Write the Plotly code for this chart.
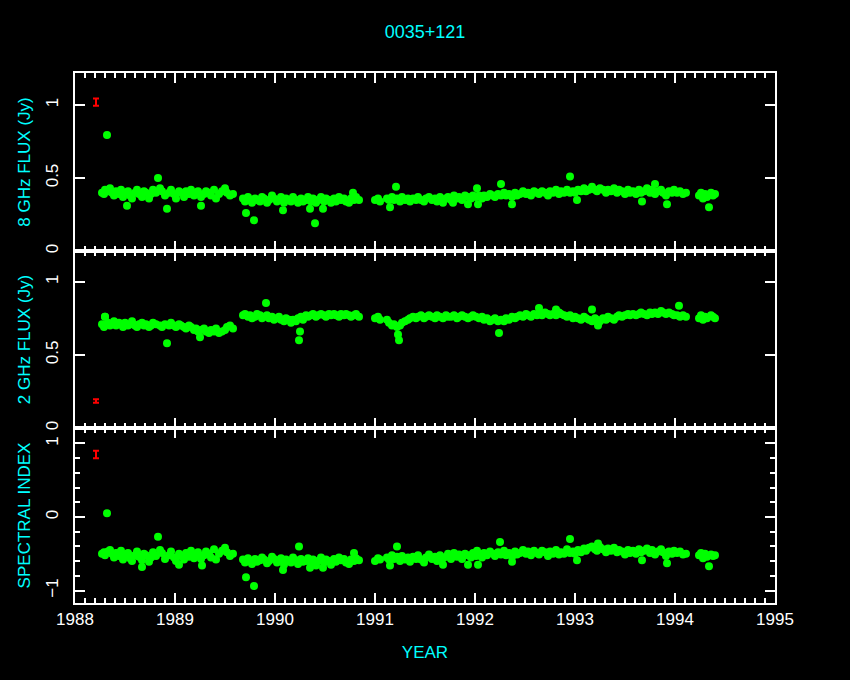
import plotly.graph_objects as go

# ---------------- data ----------------
title_text = "0035+121"
x_ticks = [1988, 1989, 1990, 1991, 1992, 1993, 1994, 1995]

dates = [
    1988.27, 1988.29, 1988.30, 1988.33, 1988.35, 1988.37, 1988.39, 1988.41, 1988.44, 1988.46,
    1988.48, 1988.50, 1988.53, 1988.55, 1988.57, 1988.60, 1988.62, 1988.64, 1988.67, 1988.69,
    1988.71, 1988.74, 1988.76, 1988.78, 1988.81, 1988.85, 1988.87, 1988.90, 1988.94, 1988.96,
    1988.99, 1989.01, 1989.04, 1989.06, 1989.09, 1989.11, 1989.14, 1989.16, 1989.19, 1989.21,
    1989.23, 1989.26, 1989.29, 1989.31, 1989.34, 1989.36, 1989.39, 1989.41, 1989.44, 1989.47,
    1989.50, 1989.52, 1989.55, 1989.58,
    1989.68, 1989.70, 1989.73, 1989.75, 1989.77, 1989.80, 1989.82, 1989.85, 1989.87, 1989.89,
    1989.92, 1989.94, 1989.97, 1989.99, 1990.02, 1990.04, 1990.06, 1990.09, 1990.11, 1990.14,
    1990.16, 1990.18, 1990.21, 1990.23, 1990.26, 1990.28, 1990.31, 1990.33, 1990.36, 1990.38,
    1990.41, 1990.43, 1990.46, 1990.49, 1990.51, 1990.54, 1990.56, 1990.59, 1990.61, 1990.64,
    1990.66, 1990.69, 1990.71, 1990.74, 1990.76, 1990.79, 1990.81, 1990.84,
    1991.00, 1991.03, 1991.05,
    1991.12, 1991.14, 1991.17, 1991.19, 1991.22, 1991.25, 1991.27, 1991.30, 1991.33, 1991.35,
    1991.38, 1991.41, 1991.43, 1991.46, 1991.49, 1991.51, 1991.54, 1991.57, 1991.60, 1991.62,
    1991.65, 1991.68, 1991.71, 1991.73, 1991.76, 1991.79, 1991.82, 1991.84, 1991.87, 1991.90,
    1991.93, 1991.96, 1991.98,
    1992.01, 1992.04, 1992.07, 1992.09, 1992.12, 1992.15, 1992.18, 1992.20, 1992.23, 1992.26,
    1992.29, 1992.31, 1992.34, 1992.37, 1992.40, 1992.42, 1992.45, 1992.48, 1992.51, 1992.53,
    1992.56, 1992.59, 1992.62, 1992.64, 1992.67, 1992.70, 1992.73, 1992.75, 1992.78, 1992.81,
    1992.84, 1992.86, 1992.89, 1992.92, 1992.95, 1992.98,
    1993.00, 1993.03, 1993.06, 1993.09, 1993.11, 1993.14, 1993.17, 1993.20, 1993.22, 1993.25,
    1993.28, 1993.31, 1993.33, 1993.36, 1993.39, 1993.42, 1993.44, 1993.47, 1993.50, 1993.53,
    1993.55, 1993.58, 1993.61, 1993.64, 1993.66, 1993.69, 1993.72, 1993.75, 1993.77, 1993.80,
    1993.83, 1993.86, 1993.88, 1993.91, 1993.94, 1993.97, 1993.99,
    1994.02, 1994.05, 1994.08, 1994.11,
    1994.24, 1994.26, 1994.28, 1994.30, 1994.32, 1994.36, 1994.38, 1994.40,
]

flux8 = [
    0.40, 0.39, 0.42, 0.41, 0.43, 0.40, 0.38, 0.41, 0.39, 0.42,
    0.37, 0.40, 0.41, 0.38, 0.36, 0.40, 0.42, 0.39, 0.37, 0.41,
    0.40, 0.36, 0.39, 0.42, 0.40, 0.43, 0.41, 0.38, 0.40, 0.42,
    0.39, 0.36, 0.41, 0.40, 0.37, 0.41, 0.39, 0.42, 0.38, 0.40,
    0.41, 0.37, 0.39, 0.41, 0.40, 0.38, 0.42, 0.36, 0.39, 0.41,
    0.43, 0.40, 0.38, 0.39,
    0.36, 0.34, 0.37, 0.35, 0.33, 0.36, 0.35, 0.34, 0.37, 0.36,
    0.33, 0.35, 0.38, 0.36, 0.34, 0.35, 0.37, 0.33, 0.36, 0.35,
    0.34, 0.37, 0.35, 0.33, 0.36, 0.34, 0.35, 0.37, 0.34, 0.36,
    0.33, 0.35, 0.37, 0.34, 0.36, 0.35, 0.33, 0.36, 0.34, 0.37,
    0.35, 0.36, 0.34, 0.33, 0.36, 0.35, 0.37, 0.35,
    0.35, 0.36, 0.34,
    0.36, 0.35, 0.37, 0.35, 0.36, 0.34, 0.37, 0.35, 0.36, 0.34,
    0.36, 0.35, 0.37, 0.35, 0.34, 0.36, 0.37, 0.35, 0.36, 0.34,
    0.37, 0.35, 0.36, 0.37, 0.35, 0.38, 0.36, 0.37, 0.35, 0.38,
    0.37, 0.36, 0.38,
    0.37, 0.38, 0.36, 0.38, 0.37, 0.39, 0.38, 0.37, 0.39, 0.38,
    0.40, 0.38, 0.39, 0.37, 0.40, 0.38, 0.39, 0.41, 0.39, 0.40,
    0.38, 0.41, 0.40, 0.39, 0.41, 0.40, 0.38, 0.41, 0.40, 0.42,
    0.39, 0.41, 0.40, 0.42, 0.40, 0.41,
    0.40, 0.42, 0.41, 0.43, 0.41, 0.42, 0.44, 0.42, 0.41, 0.43,
    0.42, 0.40, 0.42, 0.41, 0.43, 0.40, 0.42, 0.41, 0.39, 0.42,
    0.40, 0.41, 0.39, 0.42, 0.40, 0.41, 0.43, 0.40, 0.42, 0.39,
    0.41, 0.42, 0.40, 0.38, 0.41, 0.40, 0.42,
    0.40, 0.41, 0.39, 0.40,
    0.38, 0.40, 0.36, 0.39, 0.37, 0.40, 0.38, 0.39,
]

flux2 = [
    0.71, 0.69, 0.76, 0.72, 0.70, 0.71, 0.73, 0.70, 0.72, 0.71,
    0.69, 0.72, 0.70, 0.71, 0.73, 0.70, 0.69, 0.71, 0.72, 0.70,
    0.71, 0.69, 0.70, 0.72, 0.71, 0.70, 0.69, 0.71, 0.70, 0.72,
    0.70, 0.69, 0.71, 0.70, 0.69, 0.68, 0.70, 0.69, 0.67, 0.68,
    0.66, 0.67, 0.68, 0.66, 0.65, 0.67, 0.66, 0.68, 0.65, 0.66,
    0.67, 0.69, 0.70, 0.68,
    0.77, 0.78, 0.76, 0.77, 0.75, 0.76, 0.78, 0.77, 0.75, 0.76,
    0.77, 0.75, 0.76, 0.74, 0.75, 0.76, 0.74, 0.73, 0.75, 0.74,
    0.72, 0.74, 0.73, 0.75, 0.76, 0.74, 0.77, 0.76, 0.77, 0.78,
    0.76, 0.77, 0.78, 0.77, 0.76, 0.78, 0.77, 0.78, 0.77, 0.76,
    0.78, 0.77, 0.78, 0.77, 0.76, 0.77, 0.78, 0.76,
    0.75, 0.76, 0.74,
    0.74, 0.72, 0.70, 0.71, 0.69, 0.70, 0.72, 0.73, 0.74, 0.75,
    0.76, 0.75, 0.76, 0.77, 0.75, 0.76, 0.77, 0.76, 0.75, 0.77,
    0.76, 0.75, 0.77, 0.76, 0.76, 0.77, 0.75, 0.76, 0.77, 0.76,
    0.75, 0.76, 0.77,
    0.76, 0.75, 0.76, 0.74, 0.75, 0.73, 0.74, 0.75, 0.73, 0.74,
    0.73, 0.75, 0.74, 0.76, 0.75, 0.76, 0.77, 0.76, 0.78, 0.77,
    0.76, 0.78, 0.77, 0.78, 0.77, 0.79, 0.78, 0.77, 0.78, 0.77,
    0.79, 0.78, 0.77, 0.76, 0.77, 0.75,
    0.76, 0.75, 0.74, 0.76, 0.75, 0.74, 0.73, 0.75, 0.74, 0.73,
    0.75, 0.74, 0.76, 0.75, 0.74, 0.76, 0.77, 0.76, 0.77, 0.78,
    0.77, 0.78, 0.77, 0.78, 0.79, 0.78, 0.77, 0.79, 0.78, 0.79,
    0.78, 0.80, 0.79, 0.78, 0.79, 0.78, 0.77,
    0.77, 0.76, 0.77, 0.76,
    0.75, 0.77, 0.74, 0.76, 0.75, 0.77, 0.76, 0.75,
]

spec_index = [
    -0.50, -0.48, -0.52, -0.47, -0.45, -0.50, -0.55, -0.49, -0.53, -0.46,
    -0.58, -0.51, -0.49, -0.56, -0.60, -0.52, -0.47, -0.54, -0.59, -0.50,
    -0.52, -0.61, -0.55, -0.48, -0.53, -0.45, -0.49, -0.57, -0.52, -0.47,
    -0.55, -0.60, -0.50, -0.53, -0.58, -0.49, -0.54, -0.46, -0.56, -0.51,
    -0.48, -0.57, -0.52, -0.47, -0.50, -0.55, -0.44, -0.58, -0.50, -0.46,
    -0.42, -0.48, -0.53, -0.50,
    -0.58, -0.62, -0.56, -0.60, -0.64, -0.57, -0.61, -0.59, -0.55, -0.58,
    -0.63, -0.60, -0.54, -0.57, -0.62, -0.59, -0.56, -0.65, -0.58, -0.60,
    -0.62, -0.55, -0.59, -0.64, -0.57, -0.61, -0.60, -0.56, -0.62, -0.58,
    -0.66, -0.60, -0.55, -0.62, -0.58, -0.60, -0.65, -0.57, -0.61, -0.55,
    -0.59, -0.57, -0.62, -0.64, -0.58, -0.60, -0.56, -0.59,
    -0.60, -0.56, -0.58,
    -0.55, -0.58, -0.52, -0.57, -0.54, -0.60, -0.53, -0.58, -0.55, -0.61,
    -0.54, -0.57, -0.52, -0.58, -0.62, -0.55, -0.51, -0.57, -0.54, -0.60,
    -0.52, -0.56, -0.54, -0.50, -0.57, -0.49, -0.54, -0.51, -0.57, -0.50,
    -0.52, -0.55, -0.49,
    -0.53, -0.50, -0.55, -0.49, -0.52, -0.47, -0.50, -0.53, -0.48, -0.51,
    -0.46, -0.52, -0.49, -0.54, -0.47, -0.51, -0.49, -0.45, -0.50, -0.47,
    -0.52, -0.46, -0.49, -0.51, -0.46, -0.48, -0.53, -0.47, -0.50, -0.45,
    -0.51, -0.48, -0.50, -0.44, -0.49, -0.47,
    -0.50, -0.45, -0.48, -0.43, -0.46, -0.42, -0.40, -0.44, -0.46, -0.41,
    -0.44, -0.48, -0.43, -0.46, -0.42, -0.48, -0.45, -0.47, -0.51, -0.45,
    -0.49, -0.46, -0.50, -0.44, -0.48, -0.46, -0.43, -0.49, -0.45, -0.51,
    -0.47, -0.44, -0.48, -0.53, -0.47, -0.50, -0.46,
    -0.49, -0.47, -0.51, -0.50,
    -0.52, -0.49, -0.56, -0.50, -0.54, -0.51, -0.53, -0.52,
]

# isolated (outlying) points, per panel
out8_dates = [1988.32, 1988.83, 1988.52, 1988.92, 1989.26, 1989.71, 1989.79, 1990.08, 1990.40,
              1990.35, 1990.48, 1990.78, 1991.21, 1991.15, 1991.68, 1991.78, 1991.93, 1992.03,
              1992.02, 1992.26, 1992.37, 1992.95, 1993.02, 1993.67, 1993.92, 1993.80, 1994.34]
out8_vals = [0.795, 0.50, 0.31, 0.29, 0.31, 0.26, 0.21, 0.28, 0.19,
             0.29, 0.29, 0.40, 0.44, 0.30, 0.33, 0.33, 0.32, 0.32,
             0.43, 0.46, 0.32, 0.51, 0.35, 0.34, 0.32, 0.46, 0.30]

out2_dates = [1988.30, 1988.92, 1989.25, 1989.91, 1990.25, 1990.24, 1991.23, 1991.24,
              1992.24, 1992.64, 1992.81, 1993.17, 1993.23, 1994.04]
out2_vals = [0.76, 0.58, 0.62, 0.855, 0.66, 0.60, 0.64, 0.60,
             0.65, 0.82, 0.81, 0.81, 0.70, 0.835]

outsi_dates = [1988.32, 1988.83, 1988.67, 1989.04, 1989.27, 1989.71, 1989.79, 1990.08, 1990.24,
               1990.35, 1990.48, 1990.79, 1991.22, 1991.15, 1991.68, 1991.93, 1992.03, 1992.02,
               1992.25, 1992.37, 1992.95, 1993.02, 1993.23, 1993.67, 1993.92, 1994.34]
outsi_vals = [0.05, -0.27, -0.68, -0.65, -0.66, -0.82, -0.94, -0.72, -0.40,
              -0.69, -0.69, -0.49, -0.40, -0.66, -0.65, -0.65, -0.65, -0.46,
              -0.34, -0.61, -0.30, -0.59, -0.36, -0.59, -0.63, -0.67]

# typical error bars
err_date = [1988.21]
err8_val, err8_err = [1.02], [0.025]
err2_val, err2_err = [0.185], [0.012]
errsi_val, errsi_err = [0.85], [0.052]

# ---------------- figure ----------------
GREEN = "#00ff00"
CYAN = "#00ffff"
WHITE = "#ffffff"
RED = "#ff0000"
FONT = "Liberation Sans"

fig = go.Figure()

panels = [
    ("y", flux8, out8_dates, out8_vals, err8_val, err8_err),
    ("y2", flux2, out2_dates, out2_vals, err2_val, err2_err),
    ("y3", spec_index, outsi_dates, outsi_vals, errsi_val, errsi_err),
]
xnames = ["x", "x2", "x3"]
for (yname, vals, od, ov, ev, ee), xname in zip(panels, xnames):
    fig.add_trace(go.Scatter(
        x=dates + od, y=vals + ov, mode="markers", xaxis=xname, yaxis=yname,
        marker=dict(color=GREEN, size=8, line=dict(width=0)),
        showlegend=False, hoverinfo="x+y"))
    fig.add_trace(go.Scatter(
        x=err_date, y=ev, mode="markers", xaxis=xname, yaxis=yname,
        marker=dict(color=RED, size=1, opacity=0),
        error_y=dict(type="data", array=ee, color=RED, thickness=2, width=3),
        showlegend=False, hoverinfo="skip"))

xcommon = dict(
    range=[1988, 1995], tickvals=x_ticks, ticks="inside", ticklen=10, tickwidth=2,
    tickcolor=WHITE, showline=True, linecolor=WHITE, linewidth=2, mirror="ticks",
    showgrid=False, zeroline=False,
    minor=dict(dtick=0.1, ticks="inside", ticklen=5, tickwidth=2, tickcolor=WHITE, showgrid=False),
)
ycommon = dict(
    ticks="inside", ticklen=10, tickwidth=2, tickcolor=WHITE, showline=True,
    linecolor=WHITE, linewidth=2, mirror="ticks", showgrid=False, zeroline=False,
    tickangle=-90, tickfont=dict(color=WHITE, size=17, family=FONT),
    ticklabelstandoff=8,
)

d1, d2 = 175 / 530, 352 / 530

fig.update_layout(
    width=850, height=680,
    paper_bgcolor="black", plot_bgcolor="black",
    margin=dict(l=75, r=75, t=73, b=77),
    font=dict(family=FONT, color=WHITE, size=16),
    title=dict(text=title_text, x=0.5, xanchor="center", y=1 - 32 / 680, yanchor="middle",
               font=dict(color=CYAN, size=18, family=FONT)),
    xaxis=dict(**xcommon, domain=[0, 1], anchor="y", showticklabels=False),
    xaxis2=dict(**xcommon, domain=[0, 1], anchor="y2", showticklabels=False, matches="x"),
    xaxis3=dict(**xcommon, domain=[0, 1], anchor="y3", showticklabels=True, matches="x",
                tickfont=dict(color=WHITE, size=17, family=FONT),
                title=dict(text="YEAR", font=dict(color=CYAN, size=17, family=FONT), standoff=18)),
    yaxis=dict(**ycommon, domain=[d2, 1], anchor="x", range=[0, 1.22],
               tickvals=[0, 0.5, 1], ticktext=["0", "0.5", "1"],
               title=dict(text="8 GHz FLUX (Jy)", font=dict(color=CYAN, size=17, family=FONT), standoff=8)),
    yaxis2=dict(**ycommon, domain=[d1, d2], anchor="x2", range=[0, 1.21],
                tickvals=[0, 0.5, 1], ticktext=["0", "0.5", "1"],
                title=dict(text="2 GHz FLUX (Jy)", font=dict(color=CYAN, size=17, family=FONT), standoff=8)),
    yaxis3=dict(**ycommon, domain=[0, d1], anchor="x3", range=[-1.17, 1.21],
                tickvals=[-1, 0, 1], ticktext=["\u22121", "0", "1"],
                minor=dict(dtick=0.2, tick0=0, ticks="inside", ticklen=5, tickwidth=2, tickcolor=WHITE),
                title=dict(text="SPECTRAL INDEX", font=dict(color=CYAN, size=17, family=FONT), standoff=8)),
)

fig.write_html(
    "out.html",
    config={"displayModeBar": False},
    post_script="document.body.style.margin='0';document.body.style.background='black';",
)
